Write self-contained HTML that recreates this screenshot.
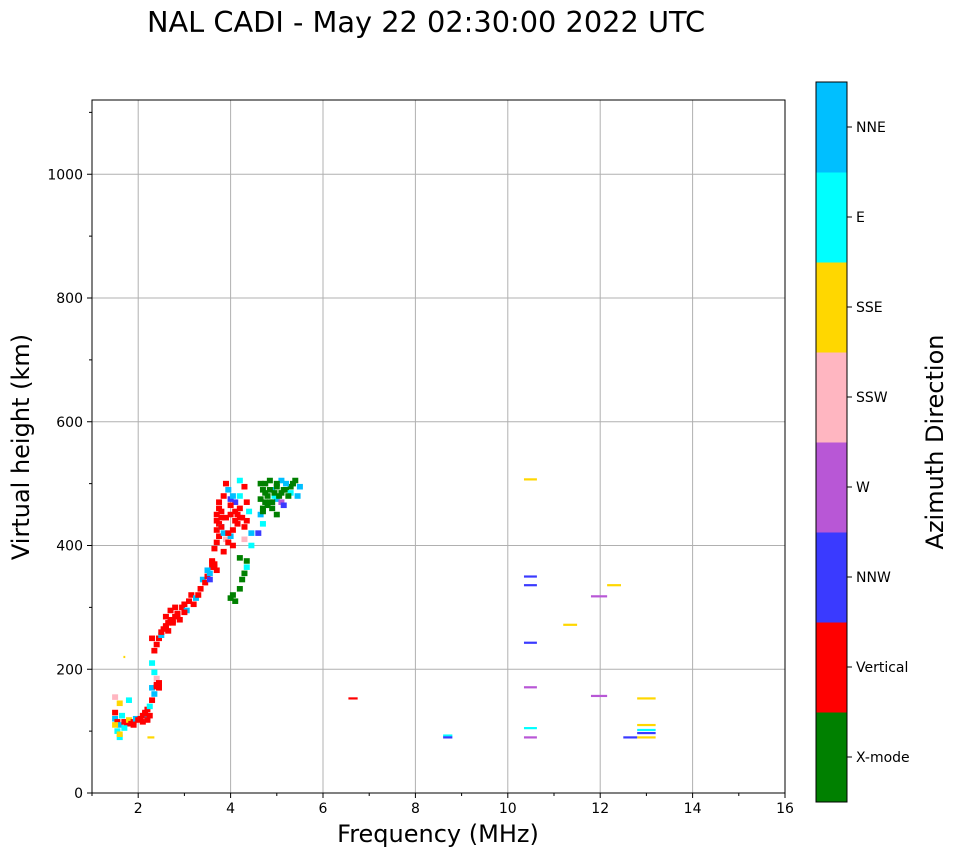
<!DOCTYPE html>
<html><head><meta charset="utf-8"><style>
body{margin:0;background:#fff;width:958px;height:857px;overflow:hidden;font-family:"DejaVu Sans",sans-serif}
</style></head><body>
<svg id="chart" width="958" height="857" xmlns="http://www.w3.org/2000/svg" font-family="DejaVu Sans, sans-serif">
<text x="426" y="32" font-size="28.8" text-anchor="middle">NAL CADI - May 22 02:30:00 2022 UTC</text>
<g id="grid"></g>
<g id="marks"></g>
<rect x="92" y="100" width="693" height="693" fill="none" stroke="#000" stroke-width="1"/>
<g id="axes"></g>
<text x="438" y="842" font-size="24" text-anchor="middle">Frequency (MHz)</text>
<text transform="translate(29,447) rotate(-90)" font-size="24" text-anchor="middle">Virtual height (km)</text>
<g id="cbar"></g>
<text transform="translate(943,442) rotate(-90)" font-size="24" text-anchor="middle">Azimuth Direction</text>
</svg>
<script>
const xTicks=[2,4,6,8,10,12,14,16];
const yTicks=[0,200,400,600,800,1000];
const dirLabels=["X-mode","Vertical","NNW","W","SSW","SSE","E","NNE"];
const dirColors=["#008000","#ff0000","#3a3aff","#b857d6","#ffb6c1","#ffd700","#00ffff","#00bfff"];
// dense echoes: freq (MHz), height (km), direction index
const freqs=[1.5,1.5,1.55,1.6,1.55,1.6,1.5,1.6,1.65,1.7,1.75,1.8,1.85,1.9,1.95,1.7,1.8,1.9,1.5,1.6,
2.05,2.1,2.15,2.2,2.1,2.2,2.25,2.3,2.35,2.3,2.4,2.45,2.4,2.35,2.3,2.35,2.4,2.45,2.3,2.5,2.55,2.6,2.65,2.6,2.7,2.75,2.8,2.85,2.7,2.8,2.9,2.95,3.0,3.05,3.1,3.15,3.2,3.25,3.3,3.35,3.4,3.45,3.5,3.55,3.6,3.65,3.6,3.7,3.55,3.5,3.65,3.7,3.75,3.7,3.75,3.8,3.7,3.8,3.75,3.85,3.9,3.8,3.85,3.9,3.95,4.0,4.05,4.1,4.15,4.2,4.25,4.3,4.1,4.2,4.3,4.2,4.0,4.05,4.35,4.4,4.35,4.45,4.3,4.05,3.85,
4.65,4.7,4.65,4.75,4.8,4.85,4.9,5.0,4.9,5.0,5.1,5.2,5.3,5.4,5.3,5.2,5.1,5.45,5.0,5.1,5.15,4.95,4.65,4.7,4.6,4.75,4.85,5.35,5.5,
4.0,4.05,4.2,4.25,4.3,4.35,4.35,4.45,4.2,4.1,
2.4,2.45,2.5,2.6,2.65,2.75,2.85,3.0,3.6,3.65,3.7,3.75,3.8,3.9,3.95,4.0,4.1,4.15,4.2,4.0,3.95,4.7,4.8,4.75,4.85,4.95,5.05,5.15,5.25,5.0,4.9,4.7,2.25,2.15,2.2,2.0];
const heights=[130,120,115,110,100,90,155,145,125,115,112,118,112,115,120,105,150,110,110,95,
120,125,130,135,115,120,140,150,160,170,175,170,185,195,210,230,240,250,250,255,265,270,275,285,280,275,285,290,295,300,280,300,305,295,310,320,305,315,320,330,345,340,350,355,365,370,375,360,345,360,395,405,415,425,435,445,450,455,470,480,500,430,420,410,405,415,425,440,450,460,445,430,470,480,495,505,475,480,470,455,440,420,410,400,390,
500,490,475,470,480,470,460,450,490,495,485,490,495,505,485,500,505,480,475,470,465,480,450,435,420,500,505,500,495,
315,320,330,345,355,375,365,400,380,310,
172,178,260,268,262,278,288,292,372,365,440,460,430,445,490,450,455,435,445,465,420,460,465,485,490,485,480,490,480,500,470,455,125,128,118,118];
const dirs=[1,7,1,7,6,6,4,5,6,1,1,5,1,1,7,6,6,1,5,5,
1,1,1,1,1,7,6,1,7,7,1,1,4,6,6,1,1,1,1,7,1,1,1,1,1,1,1,1,1,1,1,1,1,7,1,1,1,7,1,1,7,1,1,7,1,1,1,1,2,7,1,1,1,1,1,1,1,1,1,1,1,7,7,4,1,7,1,1,1,1,1,1,2,6,1,6,2,7,1,6,1,7,4,1,1,
0,0,0,0,0,0,0,0,7,0,0,0,0,0,6,7,7,7,7,3,2,6,7,6,2,0,0,0,7,
0,0,0,0,0,0,6,6,0,0,
1,1,1,1,1,1,1,1,1,1,1,1,1,1,7,1,1,1,1,1,1,0,0,0,0,0,0,0,0,0,0,0,1,1,1,1];
// sparse line echoes: start freq, end freq, height, direction index
const lineF0=[10.35,10.35,10.35,10.35,10.35,10.35,10.35,11.2,12.15,11.8,11.8,12.8,12.8,12.8,12.8,12.8,12.5,8.6,8.6,6.55,2.2,1.68];
const lineF1=[10.63,10.63,10.63,10.63,10.63,10.63,10.63,11.5,12.45,12.15,12.15,13.2,13.2,13.2,13.2,13.2,12.8,8.8,8.8,6.75,2.35,1.72];
const lineH=[507,350,336,243,171,105,90,272,336,318,157,153,110,102,97,90,90,93,90,153,90,220];
const lineD=[5,2,2,2,3,6,3,5,5,3,3,5,5,6,2,5,2,6,2,1,5,5];

const X0=92,X1=785,Y0=793,Y1=100,xmin=1,xmax=16,ymin=0,ymax=1120;
const sx=v=>X0+(v-xmin)/(xmax-xmin)*(X1-X0);
const sy=v=>Y0-(v-ymin)/(ymax-ymin)*(Y0-Y1);
const NS="http://www.w3.org/2000/svg";
function mk(tag,attrs,parent){const e=document.createElementNS(NS,tag);for(const k in attrs)e.setAttribute(k,attrs[k]);parent.appendChild(e);return e;}
const grid=document.getElementById('grid'),axes=document.getElementById('axes'),marks=document.getElementById('marks'),cbar=document.getElementById('cbar');
xTicks.forEach(t=>{
  const x=sx(t);
  if(t<xmax){const g=mk('line',{x1:x,x2:x,y1:Y1,y2:Y0,stroke:'#b0b0b0','stroke-width':1},grid);
  
  }
  mk('line',{x1:x,x2:x,y1:Y0,y2:Y0+5,stroke:'#000'},axes);
  const tx=mk('text',{x:x,y:Y0+20,'font-size':14,'text-anchor':'middle'},axes);tx.textContent=t;
  
  
});
for(let t=1;t<16;t+=2){mk('line',{x1:sx(t),x2:sx(t),y1:Y0,y2:Y0+3,stroke:'#000'},axes);}
yTicks.forEach(t=>{
  const y=sy(t);
  if(t>0){const g=mk('line',{x1:X0,x2:X1,y1:y,y2:y,stroke:'#b0b0b0','stroke-width':1},grid);
  
  }
  mk('line',{x1:X0-5,x2:X0,y1:y,y2:y,stroke:'#000'},axes);
  const tx=mk('text',{x:X0-9,y:y+5,'font-size':14,'text-anchor':'end'},axes);tx.textContent=t;
  
  
});
for(let t=100;t<1120;t+=200){mk('line',{x1:X0-3,x2:X0,y1:sy(t),y2:sy(t),stroke:'#000'},axes);}
freqs.forEach((f,i)=>{
  const w=sx(f+0.13)-sx(f),h=sy(0)-sy(9);
  const r=mk('rect',{x:sx(f)-w/2,y:sy(heights[i])-h/2,width:w,height:h,fill:dirColors[dirs[i]]},marks);
  
  
});
lineF0.forEach((f,i)=>{
  const r=mk('rect',{x:sx(f),y:sy(lineH[i])-1,width:sx(lineF1[i])-sx(f),height:2.2,fill:dirColors[lineD[i]]},marks);
  
  
});
const cbT=82,cbB=802,cbX=816,cbW=31,seg=(cbB-cbT)/dirLabels.length;
dirLabels.forEach((l,i)=>{
  const y=cbB-(i+1)*seg;
  const r=mk('rect',{x:cbX,y:y,width:cbW,height:seg+0.5,fill:dirColors[i]},cbar);
  
  
  mk('line',{x1:cbX+cbW,x2:cbX+cbW+5,y1:y+seg/2,y2:y+seg/2,stroke:'#000'},cbar);
  const tx=mk('text',{x:cbX+cbW+9,y:y+seg/2+5,'font-size':14},cbar);tx.textContent=l;
  
  
});
mk('rect',{x:cbX,y:cbT,width:cbW,height:cbB-cbT,fill:'none',stroke:'#000','stroke-width':1},cbar);
</script>
</body></html>
